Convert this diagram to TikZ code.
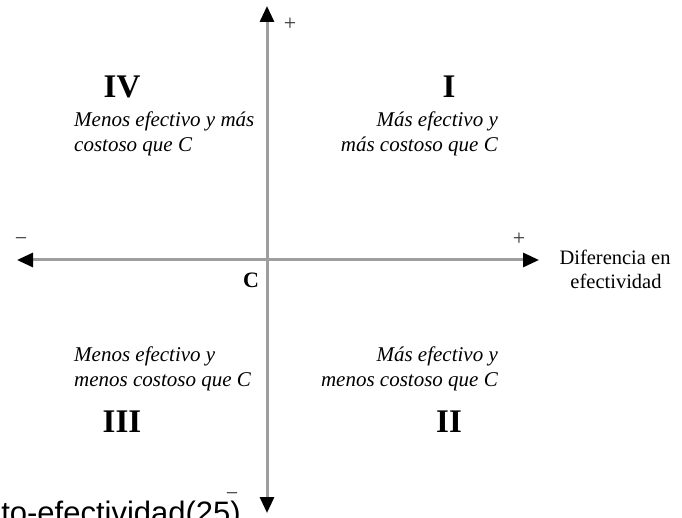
\documentclass[tikz,border=0pt]{standalone}
\usepackage{fontspec}
\setmainfont{Liberation Serif}
\setsansfont{Liberation Sans}
\usetikzlibrary{arrows.meta}
\begin{document}
\begin{tikzpicture}[x=1pt,y=-1pt,
  axis/.style={line width=3pt, draw=black!38,
    {Triangle[length=16pt,width=14pt,color=black]}-{Triangle[length=16pt,width=14pt,color=black]}},
  roman/.style={font=\fontsize{33}{33}\selectfont\bfseries, inner sep=0pt, anchor=base},
  descl/.style={font=\fontsize{21}{25}\selectfont\itshape, inner sep=0pt, anchor=base west},
  descr/.style={font=\fontsize{21}{25}\selectfont\itshape, inner sep=0pt, anchor=base east},
  sign/.style={font=\fontsize{22}{22}\selectfont, inner sep=0pt, text=black!80},
  axlabel/.style={font=\fontsize{20.5}{24}\selectfont, inner sep=0pt, anchor=base},
]
\useasboundingbox (0,0) rectangle (682,518);
\clip (0,0) rectangle (682,518);

% axes
\coordinate (L) at (17,260);
\coordinate (R) at (539,260);
\coordinate (T) at (267,6);
\coordinate (B) at (267,513);
\draw[axis] (L) -- (R);
\draw[axis] (B) -- (T);

% signs
\node[sign] (pt) at (290,24) {+};
\node[sign] (pr) at (519,239) {+};
\node[sign] (ml) at (21,242) {\textminus};
\node[sign] (mb) at (232,497) {\textminus};

% origin
\node[font=\fontsize{22}{22}\selectfont\bfseries, inner sep=0pt, anchor=base] (C) at (251,288) {C};

% quadrant numerals
\node[roman] (IV) at (122,98) {IV};
\node[roman] (I) at (449,98) {I};
\node[roman] (III) at (122,432) {III};
\node[roman] (II) at (449,432) {II};

% quadrant descriptions
\node[descl] (d4a) at (74,127) {Menos efectivo y más};
\node[descl] (d4b) at (74,152) {costoso que C};
\node[descr] (d1a) at (498,127) {Más efectivo y};
\node[descr] (d1b) at (498,152) {más costoso que C};
\node[descl] (d3a) at (74,361) {Menos efectivo y};
\node[descl] (d3b) at (74,386) {menos costoso que C};
\node[descr] (d2a) at (498,361) {Más efectivo y};
\node[descr] (d2b) at (498,386) {menos costoso que C};

% axis label
\node[axlabel] (xl1) at (615,265) {Diferencia en};
\node[axlabel] (xl2) at (616,289) {efectividad};

% caption (cut off at the lower edge)
\node[font=\fontsize{31}{31}\sffamily\selectfont, inner sep=0pt, anchor=base east] (cap) at (241,523) {to-efectividad(25)};
\end{tikzpicture}
\end{document}
